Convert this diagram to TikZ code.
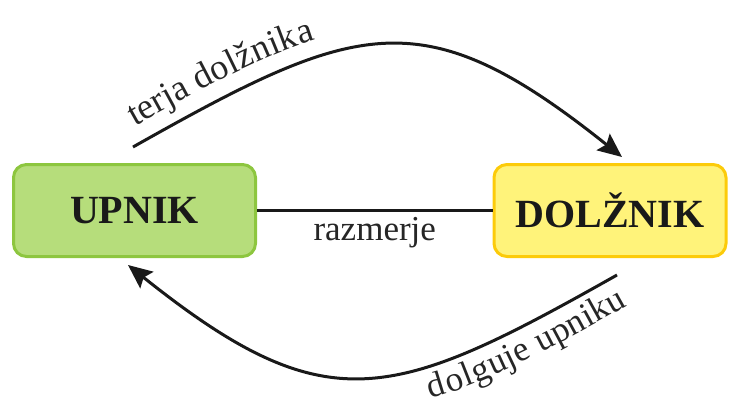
\documentclass[tikz,border=0pt]{standalone}
\usepackage{fontspec}
\setmainfont{Liberation Serif}
\usetikzlibrary{arrows.meta,decorations.text}
\definecolor{gfill}{HTML}{B6DD7B}
\definecolor{gline}{HTML}{8DC63F}
\definecolor{yfill}{HTML}{FFF37A}
\definecolor{yline}{HTML}{FCCB0A}
\tikzset{
  box/.style={rounded corners=13pt, line width=3pt, inner sep=0pt,
    minimum height=92pt, font=\fontsize{40}{48}\selectfont\bfseries, text=black!90},
  conn/.style={line width=3pt, black!90},
  arr/.style={conn, -{Stealth[length=24pt,width=21pt,inset=4pt]}},
  lbl/.style={font=\fontsize{35}{40}\selectfont, text=black!85},
}
\begin{document}
\begin{tikzpicture}[x=1pt,y=-1pt]
\useasboundingbox (0,0) rectangle (729,408);
\node[box, draw=gline, fill=gfill, minimum width=242pt] (upnik) at (134.5,210.5) {UPNIK};
\node[box, draw=yline, fill=yfill, minimum width=232pt] (dolznik) at (610,210.5) {DOLŽNIK};
\draw[conn] (upnik) -- (dolznik) node[midway, lbl, anchor=base, yshift=-30pt] (raz) {razmerje};
\coordinate (t1) at (133,147);
\coordinate (t2) at (622,157);
\coordinate (b1) at (617,275);
\coordinate (b2) at (128,265);
\draw[arr] (t1) .. controls (358,20) and (423,-2) .. (t2);
\draw[arr] (b1) .. controls (392,402) and (327,424) .. (b2);
\path[decorate, decoration={text along path, raise=17pt,
  text align={left indent=12pt},
  text={|\fontsize{36}{44}\selectfont\color{black!85}|terja dolžnika}}]
  (t1) .. controls (358,20) and (423,-2) .. (t2);
\path[decorate, decoration={text along path, raise=-32pt,
  text align={right, right indent=6pt},
  text={|\fontsize{35}{44}\selectfont\color{black!85}|dolguje upniku}}]
  (b2) .. controls (327,424) and (392,402) .. (b1);
\end{tikzpicture}
\end{document}
